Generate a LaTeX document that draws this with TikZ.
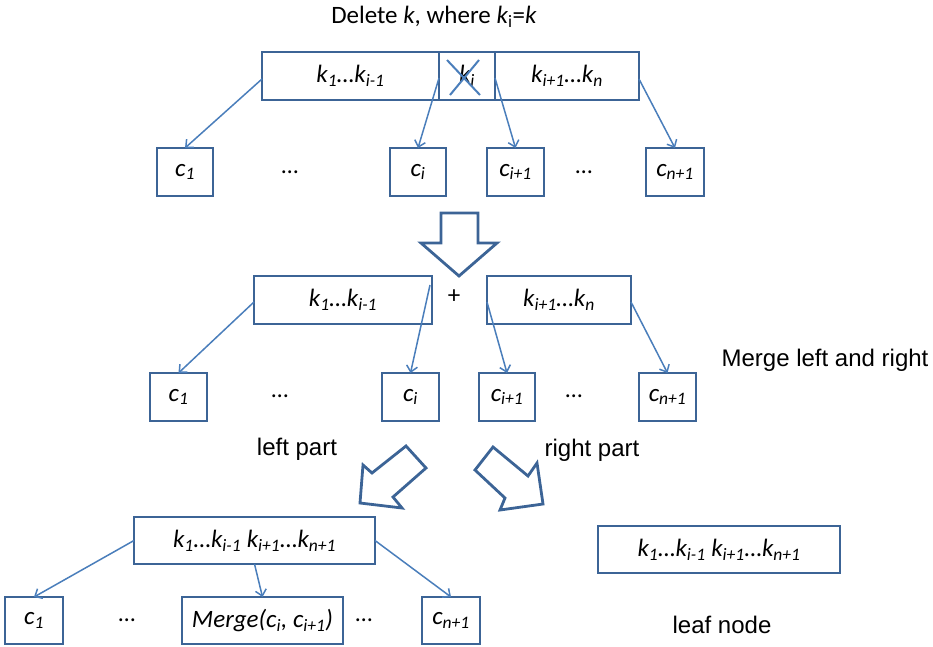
\documentclass[tikz,border=0pt]{standalone}
\usepackage{fontspec}
\setmainfont{Carlito}
\newfontfamily\arialf{Liberation Sans}
\usetikzlibrary{arrows.meta,calc}
\definecolor{boxblue}{HTML}{3C6496}
\definecolor{lineblue}{HTML}{4A7EBB}
\newcommand\sbs[1]{\textsubscript{#1}}
\tikzset{
  box/.style={draw=boxblue, line width=2.8pt, inner sep=0pt, outer sep=0pt,
    font=\itshape\fontsize{25}{25}\selectfont, align=center},
  conn/.style={draw=lineblue, line width=1.5pt, -{Straight Barb[length=6pt,width=11pt,line width=1.5pt]}},
  hollow/.style={draw=boxblue, line width=2.8pt, line join=miter},
  crossline/.style={draw=lineblue, line width=2pt},
  plain/.style={font=\fontsize{25}{25}\selectfont, inner sep=0pt},
  arial/.style={font=\arialf\fontsize{24}{24}\selectfont, inner sep=0pt},
  dots/.style={font=\fontsize{24}{24}\selectfont, inner sep=0pt},
}
\begin{document}
\begin{tikzpicture}[x=1pt,y=-1pt]
\useasboundingbox (0,0) rectangle (933,646);

% title
\node[plain] (title) at (434,17) {Delete \textit{k}, where \textit{k}\textsubscript{i}=\textit{k}};

% top node
\node[box, minimum width=177pt, minimum height=48pt] (tA) at (350.5,76) {k\sbs{1}…k\sbs{i-1}};
\node[box, minimum width=56pt, minimum height=48pt] (tB) at (467,76) {k\sbs{i}};
\node[box, minimum width=144pt, minimum height=48pt] (tC) at (567,76) {k\sbs{i+1}…k\sbs{n}};
\draw[crossline] ($(tB.north west)+(8,8)$) -- ($(tB.south east)+(-15,-5)$);
\draw[crossline] ($(tB.south west)+(11,-5)$) -- ($(tB.north east)+(-16,8)$);

% row 1 children
\node[box, minimum width=56pt, minimum height=48pt] (a1) at (185,172) {c\sbs{1}};
\node[box, minimum width=56pt, minimum height=48pt] (ai) at (418,172) {c\sbs{i}};
\node[box, minimum width=57pt, minimum height=48pt] (ai1) at (515.5,172) {c\sbs{i+1}};
\node[box, minimum width=58pt, minimum height=48pt] (an1) at (675,172) {c\sbs{n+1}};
\node[dots] (d1) at (290,172) {…};
\node[dots] (d2) at (584,172) {…};

\draw[conn] ([yshift=-3pt]tA.west) -- (a1.north);
\draw[conn] ([yshift=-2pt]tA.east) -- (ai.north);
\draw[conn] ([yshift=-2pt]tC.west) -- (ai1.north);
\draw[conn] ([yshift=-3pt]tC.east) -- (an1.north);

% big down arrow
\draw[hollow] (441,213) -- (478,213) -- (478,243) -- (497,243) -- (459,276) -- (421,243) -- (441,243) -- cycle;

% row 2
\node[box, minimum width=178pt, minimum height=48pt] (L) at (343,300) {k\sbs{1}…k\sbs{i-1}};
\node[box, minimum width=144pt, minimum height=48pt] (R) at (559,300) {k\sbs{i+1}…k\sbs{n}};
\node[plain] (plus) at (454,297) {+};

\node[box, minimum width=57pt, minimum height=48pt] (b1) at (178.5,397) {c\sbs{1}};
\node[box, minimum width=57pt, minimum height=48pt] (bi) at (410.5,397) {c\sbs{i}};
\node[box, minimum width=56pt, minimum height=48pt] (bi1) at (507,397) {c\sbs{i+1}};
\node[box, minimum width=57pt, minimum height=48pt] (bn1) at (667.5,397) {c\sbs{n+1}};
\node[dots] (d3) at (280,396) {…};
\node[dots] (d4) at (574,396) {…};

\draw[conn] ([yshift=-2pt]L.west) -- (b1.north);
\draw[conn] ([xshift=-2pt,yshift=15pt]L.east) -- (bi.north);
\draw[conn] ([yshift=-2pt]R.west) -- (bi1.north);
\draw[conn] ([yshift=-2pt]R.east) -- (bn1.north);

\node[arial] (mlr) at (825,360) {Merge left and right};
\node[arial] (lp) at (297,449) {left part};
\node[arial] (rp) at (592,450) {right part};

% hollow diagonal arrows
\draw[hollow] (406,446) -- (426,468) -- (393,497) -- (402,508) -- (360,503) -- (363,465) -- (372,473) -- cycle;
\draw[hollow] (493,447) -- (528,476) -- (537,463) -- (543,504) -- (500,510) -- (505,498) -- (475,470) -- cycle;

% bottom
\node[box, minimum width=241pt, minimum height=47pt] (M) at (254.5,540.5) {k\sbs{1}…k\sbs{i-1} k\sbs{i+1}…k\sbs{n+1}};
\node[box, minimum width=242pt, minimum height=47pt] (leaf) at (719,549.5) {k\sbs{1}…k\sbs{i-1} k\sbs{i+1}…k\sbs{n+1}};
\node[arial] (ln) at (722,625) {leaf node};

\node[box, minimum width=58pt, minimum height=47pt] (e1) at (34,620.5) {c\sbs{1}};
\node[box, minimum width=161pt, minimum height=47pt] (em) at (262.5,620.5) {Merge(c\sbs{i}, c\sbs{i+1})};
\node[box, minimum width=58pt, minimum height=47pt] (en1) at (451,620.5) {c\sbs{n+1}};
\node[dots] (d5) at (127,620) {…};
\node[dots] (d6) at (364,620) {…};

\draw[conn] (M.west) -- (e1.north);
\draw[conn] (M.south) -- (em.north);
\draw[conn] (M.east) -- (en1.north);
\end{tikzpicture}
\end{document}
